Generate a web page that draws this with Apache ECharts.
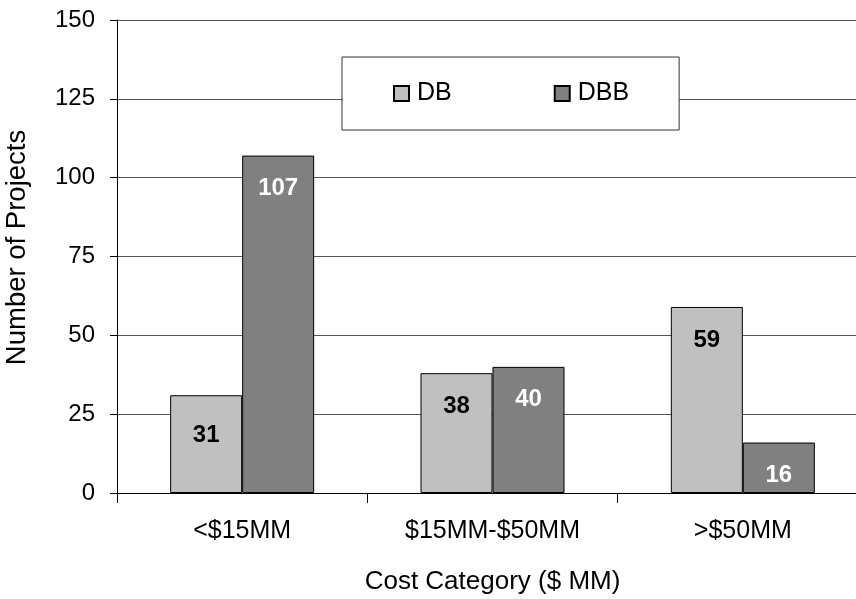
<!DOCTYPE html>
<html>
<head>
<meta charset="utf-8">
<script src="https://cdn.jsdelivr.net/npm/echarts@6/dist/echarts.min.js"></script>
<style>
  html, body { margin: 0; padding: 0; background: #fff; }
  #chart { width: 856px; height: 599px; }
</style>
</head>
<body>
<div id="chart"></div>
<script>
// Project counts by cost category for the two delivery methods
const categories = ['<$15MM', '$15MM-$50MM', '>$50MM'];
const dbValues = [31, 38, 59];
const dbbValues = [107, 40, 16];
const yTicks = [0, 25, 50, 75, 100, 125, 150];

const FONT = '"Liberation Sans", Arial, sans-serif';

const chart = echarts.init(document.getElementById('chart'), null, { renderer: 'canvas' });

const barLabel = (color) => ({
  show: true,
  position: 'insideTop',
  distance: 21,
  color: color,
  fontFamily: FONT,
  fontWeight: 'bold',
  fontSize: 24
});

// the short first DB bar carries its label a little lower
const dbData = dbValues.map((v, i) => i === 0 ? { value: v, label: { distance: 28 } } : v);

chart.setOption({
  animation: false,
  backgroundColor: '#ffffff',
  grid: { left: 117, right: -12, top: 20, bottom: 106, outerBoundsMode: 'none', containLabel: false },
  legend: {
    data: ['DB', 'DBB'],
    left: 342,
    top: 57,
    orient: 'horizontal',
    icon: 'rect',
    itemWidth: 15,
    itemHeight: 15,
    itemGap: 102,
    padding: [24, 50, 24, 51],
    backgroundColor: '#ffffff',
    borderColor: '#333333',
    borderWidth: 1,
    textStyle: { fontFamily: FONT, fontSize: 25, color: '#000', padding: [0, 0, 0, 3] }
  },
  xAxis: {
    type: 'category',
    data: categories,
    boundaryGap: true,
    name: 'Cost Category ($ MM)',
    nameLocation: 'middle',
    nameGap: 76,
    nameTextStyle: { fontFamily: FONT, fontSize: 26, color: '#000' },
    axisLine: { show: true, lineStyle: { color: '#000', width: 1 } },
    axisTick: { show: true, length: 10, alignWithLabel: false, lineStyle: { color: '#000' } },
    axisLabel: { fontFamily: FONT, fontSize: 25, color: '#000', margin: 26 },
    splitLine: { show: false }
  },
  yAxis: {
    type: 'value',
    min: yTicks[0],
    max: yTicks[yTicks.length - 1],
    interval: yTicks[1] - yTicks[0],
    name: 'Number of Projects',
    nameLocation: 'middle',
    nameGap: 86,
    nameRotate: 90,
    nameTextStyle: { fontFamily: FONT, fontSize: 27.5, color: '#000', padding: [0, 0, 0, 18] },
    axisLine: { show: true, lineStyle: { color: '#000', width: 1 } },
    axisTick: { show: true, length: 7, inside: false, lineStyle: { color: '#000' } },
    axisLabel: { fontFamily: FONT, fontSize: 24, color: '#000', margin: 22 },
    splitLine: { show: true, lineStyle: { color: '#555555', width: 1 } }
  },
  series: [
    {
      name: 'DB',
      type: 'bar',
      data: dbData,
      barWidth: 72,
      barGap: '0%',
      itemStyle: { color: '#c0c0c0', borderColor: '#000', borderWidth: 1 },
      label: barLabel('#000')
    },
    {
      name: 'DBB',
      type: 'bar',
      data: dbbValues,
      barWidth: 72,
      barGap: '0%',
      itemStyle: { color: '#808080', borderColor: '#000', borderWidth: 1 },
      label: barLabel('#fff')
    }
  ]
});
</script>
</body>
</html>
